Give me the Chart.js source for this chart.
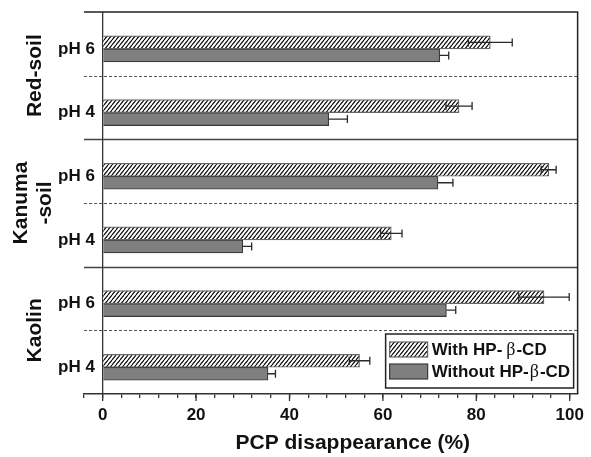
<!DOCTYPE html>
<html>
<head>
<meta charset="utf-8">
<script src="https://cdn.jsdelivr.net/npm/chart.js@4.4.1/dist/chart.umd.min.js"></script>
<style>
  html, body { margin: 0; padding: 0; background: #fff; }
</style>
</head>
<body>
<canvas id="pcpChart" width="591" height="457"></canvas>
<script>
// rows top to bottom
const rowLabels = ["pH 6", "pH 4", "pH 6", "pH 4", "pH 6", "pH 4"];
const soilGroups = [["Red-soil"], ["Kanuma", "-soil"], ["Kaolin"]];

const withCD = [83.0, 76.3, 95.5, 61.8, 94.5, 55.0];
const withCDErr = [4.7, 2.8, 1.6, 2.3, 5.4, 2.2];
const withoutCD = [72.2, 48.4, 71.8, 30.0, 73.6, 35.4];
const withoutCDErr = [1.9, 4.0, 3.2, 1.9, 2.0, 1.6];

const seriesNames = ["With HP-", "Without HP-"]; // followed by β-CD
const xTicks = [-4, 0, 4, 8, 12, 16, 20, 24, 28, 32, 36, 40, 44, 48, 52, 56, 60, 64, 68, 72, 76, 80, 84, 88, 92, 96, 100];
const xLabelled = [0, 20, 40, 60, 80, 100];
const xTitle = "PCP disappearance (%)";

const ROW_TOP = -0.58; // each row spans i+ROW_TOP .. i+ROW_TOP+1
const SANS = "'Liberation Sans', Arial, sans-serif";

function makeHatch() {
    const w = 4, h = 5;
    const c = document.createElement('canvas');
    c.width = w; c.height = h;
    const g = c.getContext('2d');
    g.fillStyle = '#fff';
    g.fillRect(0, 0, w, h);
    g.strokeStyle = '#000';
    g.lineWidth = 1.1;
    for (const off of [-w, 0, w]) {
        g.beginPath();
        g.moveTo(off, h);
        g.lineTo(off + w, 0);
        g.stroke();
    }
    return g.createPattern(c, 'repeat');
}

const hatch = makeHatch();

const separatorPlugin = {
    id: 'separators',
    beforeDatasetsDraw(chart) {
        const {ctx, chartArea} = chart;
        const y = chart.scales.y;
        ctx.save();
        for (let i = 0; i < rowLabels.length - 1; i++) {
            const py = Math.round(y.getPixelForValue(i + ROW_TOP + 1)) + 0.5;
            const groupEnd = (i % 2 === 1);
            ctx.beginPath();
            ctx.setLineDash(groupEnd ? [] : [3, 2]);
            ctx.strokeStyle = groupEnd ? '#444' : '#555';
            ctx.lineWidth = groupEnd ? 1.3 : 1;
            ctx.moveTo(chartArea.left, py);
            ctx.lineTo(chartArea.right, py);
            ctx.stroke();
        }
        ctx.setLineDash([]);
        // top and right frame
        ctx.strokeStyle = '#222';
        ctx.lineWidth = 1.5;
        ctx.beginPath();
        ctx.moveTo(chartArea.left, chartArea.top);
        ctx.lineTo(chartArea.right, chartArea.top);
        ctx.lineTo(chartArea.right, chartArea.bottom);
        ctx.stroke();
        ctx.restore();
    }
};

const errorBarPlugin = {
    id: 'errorBars',
    afterDatasetsDraw(chart) {
        const {ctx} = chart;
        const x = chart.scales.x;
        ctx.save();
        ctx.strokeStyle = '#2a2a2a';
        ctx.lineWidth = 1.3;
        chart.data.datasets.forEach((ds, di) => {
            const meta = chart.getDatasetMeta(di);
            meta.data.forEach((bar, j) => {
                const v = ds.data[j].x;
                const e = ds.err[j];
                const x1 = x.getPixelForValue(ds.bothSides ? v - e : v);
                const x2 = x.getPixelForValue(v + e);
                const cy = bar.y;
                ctx.beginPath();
                ctx.moveTo(x1, cy);
                ctx.lineTo(x2, cy);
                ctx.moveTo(x2, cy - 4);
                ctx.lineTo(x2, cy + 4);
                if (ds.bothSides) {
                    ctx.moveTo(x1, cy - 4);
                    ctx.lineTo(x1, cy + 4);
                }
                ctx.stroke();
            });
        });
        ctx.restore();
    }
};

const labelPlugin = {
    id: 'groupLabels',
    afterDraw(chart) {
        const {ctx, chartArea} = chart;
        const x = chart.scales.x;
        const y = chart.scales.y;
        ctx.save();

        // longer marks at the labelled ticks
        ctx.strokeStyle = '#333';
        ctx.lineWidth = 1.3;
        xLabelled.forEach(v => {
            const px = x.getPixelForValue(v);
            ctx.beginPath();
            ctx.moveTo(px, chartArea.bottom);
            ctx.lineTo(px, chartArea.bottom + 7);
            ctx.stroke();
        });

        ctx.fillStyle = '#111';
        ctx.font = 'bold 21px ' + SANS;
        ctx.textAlign = 'center';
        ctx.textBaseline = 'middle';
        soilGroups.forEach((lines, g) => {
            const top = y.getPixelForValue(2 * g + ROW_TOP);
            const bottom = y.getPixelForValue(2 * g + 1 + ROW_TOP + 1);
            const cy = (top + bottom) / 2;
            lines.forEach((line, k) => {
                const cx = 35 + (k - (lines.length - 1) / 2) * 24 - (lines.length - 1) * 2;
                ctx.save();
                ctx.translate(cx, cy);
                ctx.rotate(-Math.PI / 2);
                ctx.fillText(line, 0, 0);
                ctx.restore();
            });
        });

        // x axis title
        ctx.font = 'bold 21px ' + SANS;
        ctx.fillText(xTitle, (chartArea.left + chartArea.right) / 2 + 22, 443);

        // legend box
        const bw = 188, bh = 54;
        const bx = chartArea.right - 4 - bw;
        const by = chartArea.bottom - 6 - bh;
        ctx.fillStyle = '#fff';
        ctx.fillRect(bx, by, bw, bh);
        ctx.strokeStyle = '#222';
        ctx.lineWidth = 1.5;
        ctx.strokeRect(bx, by, bw, bh);
        chart.data.datasets.forEach((ds, i) => {
            const sy = by + 8 + i * 22;
            ctx.fillStyle = ds.backgroundColor;
            ctx.fillRect(bx + 4, sy, 38, 15);
            ctx.strokeStyle = ds.borderColor;
            ctx.lineWidth = 1.2;
            ctx.strokeRect(bx + 4, sy, 38, 15);
            let tx = bx + 46;
            const ty = sy + 8;
            ctx.fillStyle = '#111';
            ctx.textAlign = 'left';
            ctx.font = 'bold 17px ' + SANS;
            ctx.fillText(seriesNames[i], tx, ty);
            tx += ctx.measureText(seriesNames[i]).width + (i === 0 ? 4 : 1);
            ctx.font = '18px "Liberation Serif", serif';
            ctx.fillText('β', tx, ty);
            tx += ctx.measureText('β').width + 1;
            ctx.font = 'bold 17px ' + SANS;
            ctx.fillText('-CD', tx, ty);
        });
        ctx.restore();
    }
};

const ctx = document.getElementById('pcpChart').getContext('2d');

const chart = new Chart(ctx, {
    type: 'bar',
    data: {
        datasets: [
            {
                label: 'With HP-β-CD',
                data: withCD.map((v, i) => ({x: v, y: i})),
                err: withCDErr,
                bothSides: true,
                backgroundColor: hatch,
                borderColor: '#666',
                borderWidth: 1.2,
                barThickness: 13
            },
            {
                label: 'Without HP-β-CD',
                data: withoutCD.map((v, i) => ({x: v, y: i})),
                err: withoutCDErr,
                bothSides: false,
                backgroundColor: '#7f7f7f',
                borderColor: '#3a3a3a',
                borderWidth: 1.2,
                barThickness: 13
            }
        ]
    },
    options: {
        responsive: false,
        animation: false,
        indexAxis: 'y',
        layout: { padding: { top: 12, right: 8, left: 0, bottom: 0 } },
        plugins: {
            legend: { display: false },
            tooltip: { enabled: false }
        },
        scales: {
            x: {
                type: 'linear',
                min: -4,
                max: 101.7,
                afterBuildTicks: s => { s.ticks = xTicks.map(v => ({value: v})); },
                afterFit: s => { s.height = 63; },
                grid: {
                    color: c => (c.tick && c.tick.value === 0) ? '#333' : 'rgba(0,0,0,0)',
                    lineWidth: 1.3,
                    tickColor: '#333',
                    tickLength: 4,
                    tickWidth: 1.3
                },
                border: { color: '#333', width: 1.5 },
                ticks: {
                    padding: 7,
                    color: '#111',
                    font: { family: SANS, size: 17, weight: 'bold' },
                    maxRotation: 0,
                    autoSkip: false,
                    callback: v => xLabelled.includes(v) ? v : ''
                }
            },
            y: {
                type: 'linear',
                reverse: true,
                offset: false,
                min: ROW_TOP,
                max: rowLabels.length + ROW_TOP,
                afterBuildTicks: s => { s.ticks = rowLabels.map((_, i) => ({value: i})); },
                afterFit: s => { s.width = 84; },
                grid: { display: false, drawTicks: false },
                border: { display: false },
                ticks: {
                    mirror: true,
                    crossAlign: 'near',
                    padding: -26,
                    color: '#111',
                    font: { family: SANS, size: 17, weight: 'bold' },
                    autoSkip: false,
                    callback: v => rowLabels[v]
                }
            }
        }
    },
    plugins: [separatorPlugin, errorBarPlugin, labelPlugin]
});
</script>
</body>
</html>
